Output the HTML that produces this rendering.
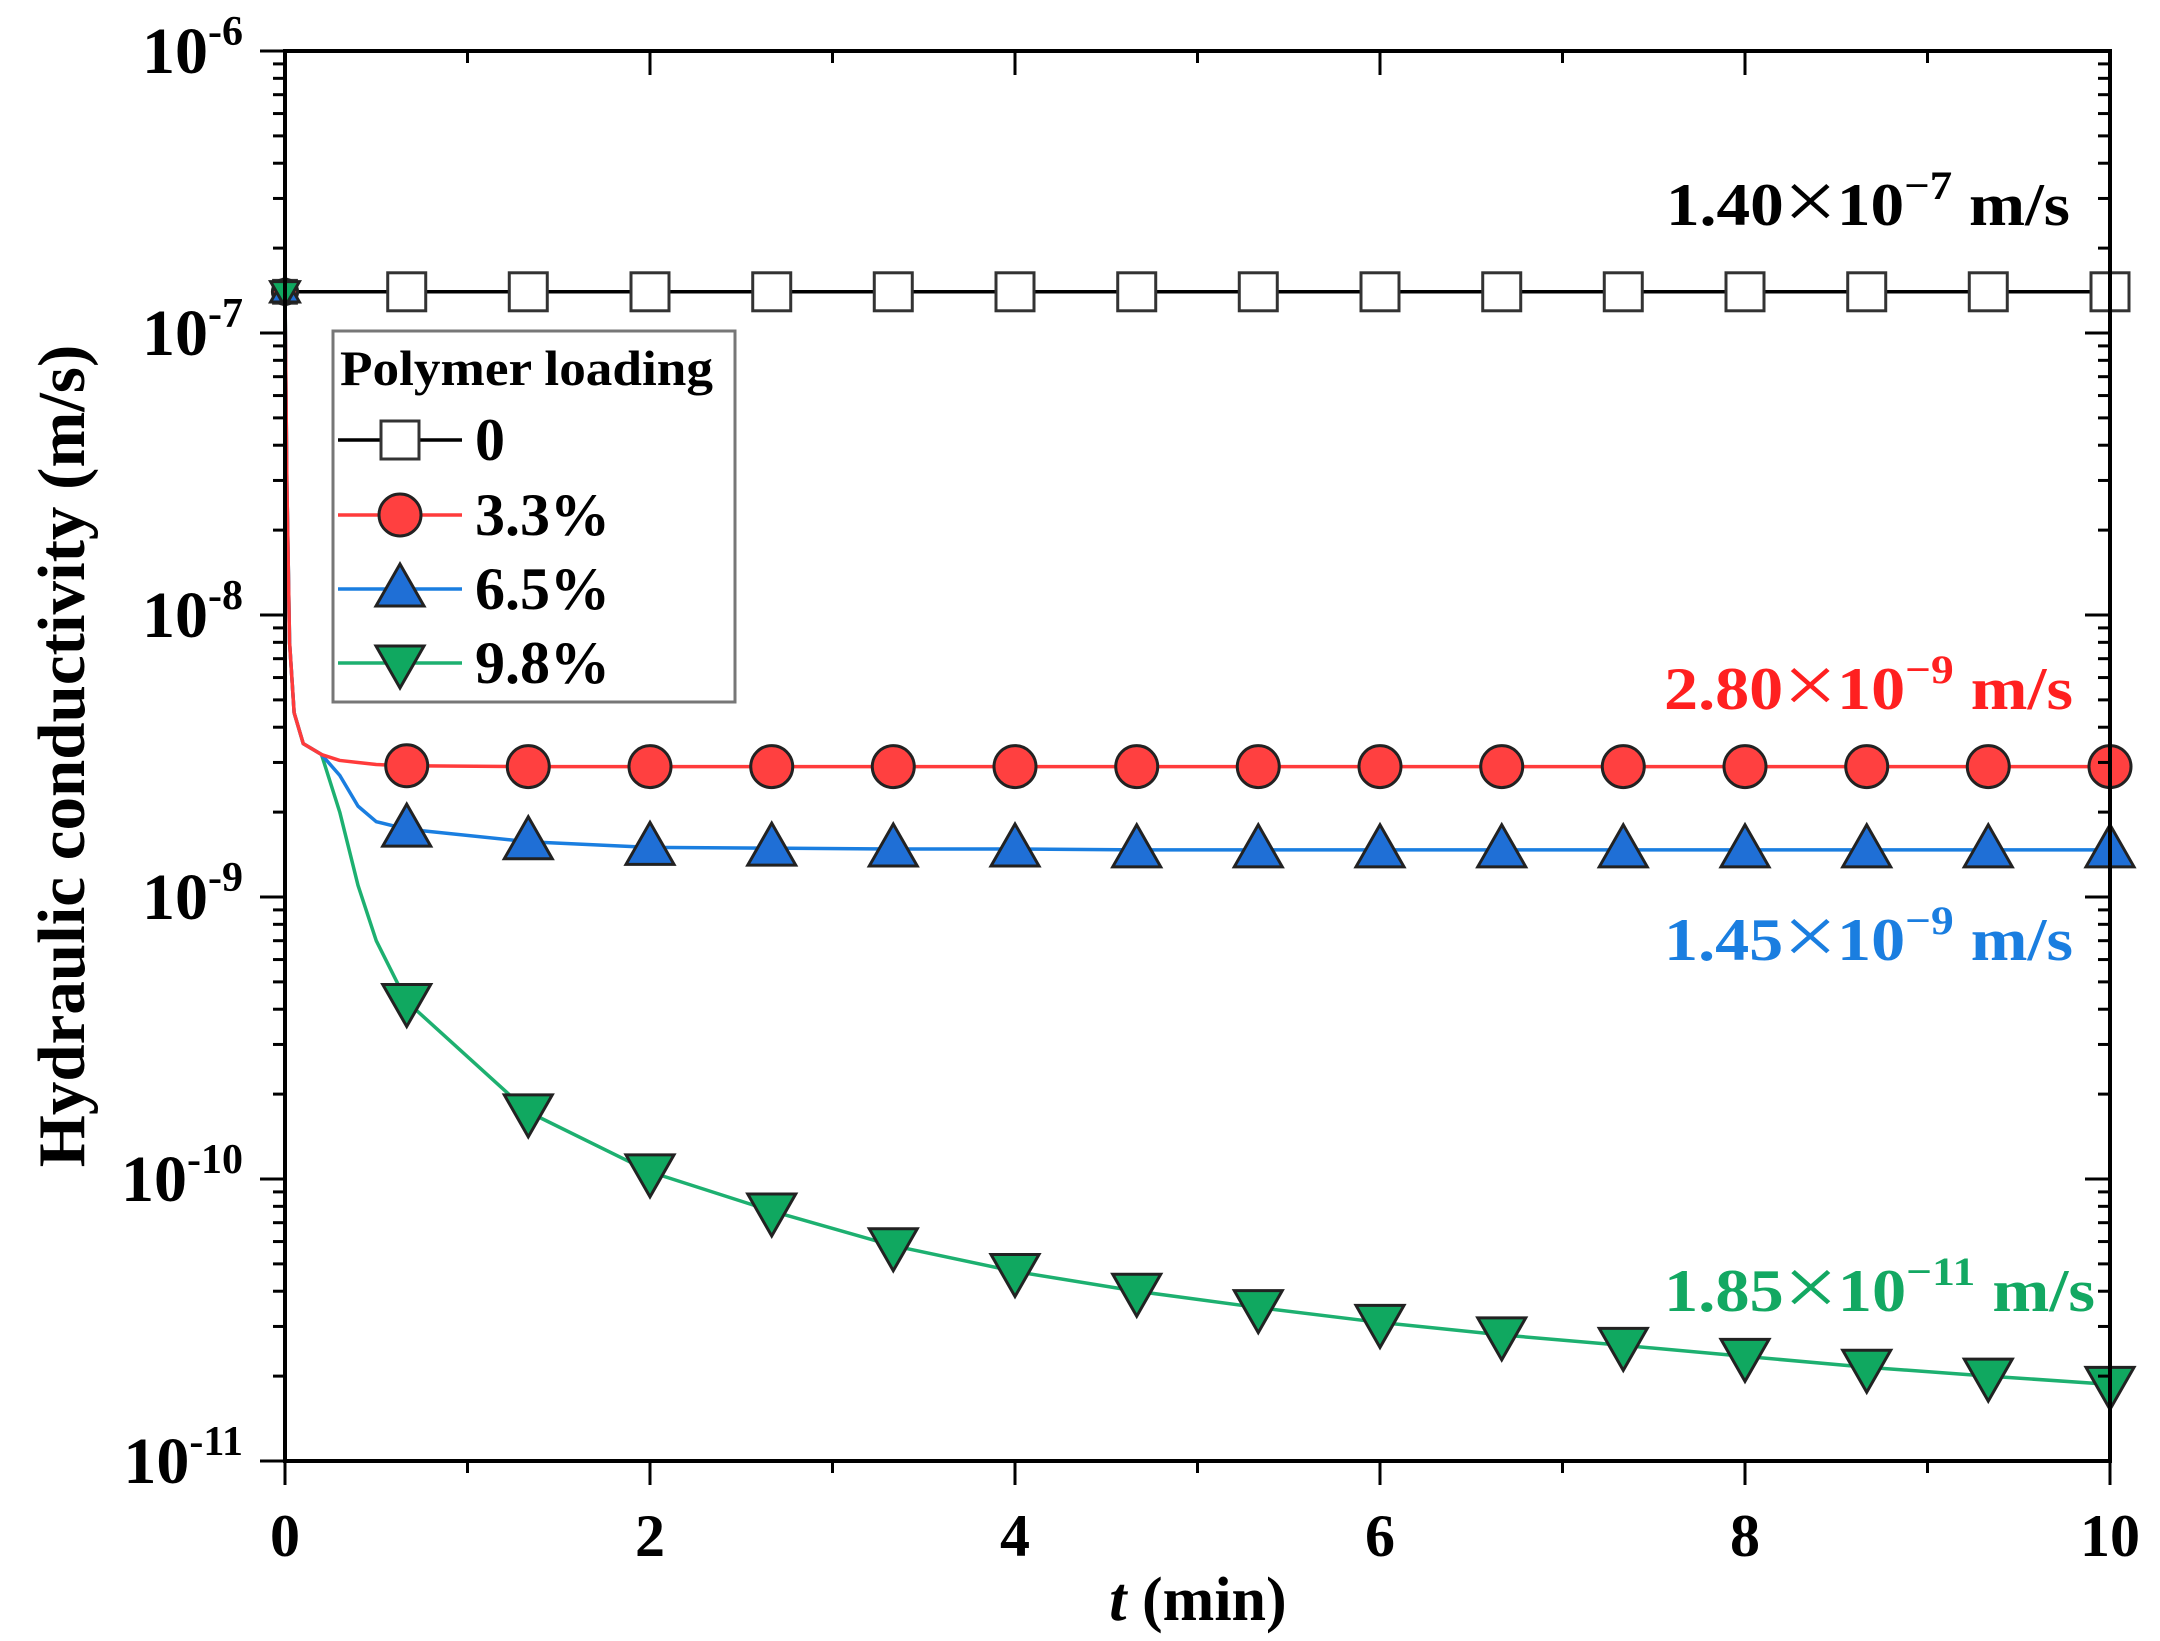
<!DOCTYPE html>
<html><head><meta charset="utf-8"><style>
html,body{margin:0;padding:0;background:#fff;}
svg{display:block;font-family:"Liberation Serif",serif;font-weight:bold;}
</style></head><body>
<svg id="chart" width="2160" height="1641" viewBox="0 0 2160 1641" xmlns="http://www.w3.org/2000/svg">
<g id="grid"></g>
<g id="lines"></g>
<g id="marks"></g>
<g id="axes"></g>
<g id="legend"></g>
<g id="annot"></g>
</svg>
<script>
// ---- data ----
const markerT = [0,0.667,1.333,2,2.667,3.333,4,4.667,5.333,6,6.667,7.333,8,8.667,9.333,10];
const k0 = [1.4e-7,1.4e-7,1.4e-7,1.4e-7,1.4e-7,1.4e-7,1.4e-7,1.4e-7,1.4e-7,1.4e-7,1.4e-7,1.4e-7,1.4e-7,1.4e-7,1.4e-7,1.4e-7];
const k33 = [1.4e-7,2.92e-9,2.9e-9,2.9e-9,2.9e-9,2.9e-9,2.9e-9,2.9e-9,2.9e-9,2.9e-9,2.9e-9,2.9e-9,2.9e-9,2.9e-9,2.9e-9,2.9e-9];
const k65 = [1.4e-7,1.74e-9,1.57e-9,1.5e-9,1.49e-9,1.48e-9,1.48e-9,1.47e-9,1.47e-9,1.47e-9,1.47e-9,1.47e-9,1.47e-9,1.47e-9,1.47e-9,1.47e-9];
const k98 = [1.4e-7,4.26e-10,1.73e-10,1.06e-10,7.7e-11,5.8e-11,4.7e-11,4.0e-11,3.5e-11,3.1e-11,2.8e-11,2.57e-11,2.35e-11,2.15e-11,2.0e-11,1.87e-11];
// early transient (line only)
const earlyT = [0,0.01,0.025,0.05,0.1,0.2,0.3,0.4,0.5];
const early33 = [1.4e-7,3e-8,8e-9,4.5e-9,3.5e-9,3.2e-9,3.05e-9,3.0e-9,2.95e-9];
const early65 = [1.4e-7,3e-8,8e-9,4.5e-9,3.5e-9,3.2e-9,2.7e-9,2.1e-9,1.85e-9];
const early98 = [1.4e-7,3e-8,8e-9,4.5e-9,3.5e-9,3.2e-9,2.0e-9,1.1e-9,7e-10];
const xTicks = [0,2,4,6,8,10];
const yExps = [-6,-7,-8,-9,-10,-11];

// ---- axes ----
const X0=285,X1=2110,Y0=51,Y1=1461;
const xs=t=>X0+(t/10)*(X1-X0);
const ys=v=>Y0+(-6-Math.log10(v))*(Y1-Y0)/5;
const NS="http://www.w3.org/2000/svg";
function mk(tag,attrs,parent){const e=document.createElementNS(NS,tag);for(const k in attrs)e.setAttribute(k,attrs[k]);parent.appendChild(e);return e;}
const axes=document.getElementById('axes');
const frame=mk('rect',{x:X0,y:Y0,width:X1-X0,height:Y1-Y0,fill:'none',stroke:'#000','stroke-width':4},axes);


for(let t=0;t<=10;t++){
  const maj=t%2===0, L=maj?24:12;
  const b=mk('line',{x1:xs(t),x2:xs(t),y1:Y1,y2:Y1+L,stroke:'#000','stroke-width':3},axes);
  
  
  const tp=mk('line',{x1:xs(t),x2:xs(t),y1:Y0,y2:Y0+L,stroke:'#000','stroke-width':3},axes);
  
  
}
xTicks.forEach(t=>{
  const tx=mk('text',{x:xs(t),y:1556,'font-size':60,'text-anchor':'middle'},axes);
  tx.textContent=t;
  
  
});
for(let e=-6;e>-11;e--){
  for(let m=1;m<10;m++){
    const y=ys(m*Math.pow(10,e-1));
    const L=m===1?25:12;
    const l=mk('line',{x1:X0-L,x2:X0,y1:y,y2:y,stroke:'#000','stroke-width':3},axes);
    
    
    const r=mk('line',{x1:X1-L,x2:X1,y1:y,y2:y,stroke:'#000','stroke-width':3},axes);
    
    
  }
}
mk('line',{x1:X0-25,x2:X0,y1:ys(1e-6),y2:ys(1e-6),stroke:'#000','stroke-width':3},axes);
yExps.forEach(e=>{
  const y=ys(Math.pow(10,e));
  const tx=mk('text',{x:243,y:y+22,'font-size':66,'text-anchor':'end'},axes);
  tx.innerHTML='10<tspan dy="-28" font-size="42">-'+(-e)+'</tspan>';
  
  
});
const xt=mk('text',{x:1198,y:1620,'font-size':62,'text-anchor':'middle'},axes);
xt.innerHTML='<tspan font-style="italic">t</tspan> (min)';


const yt=mk('text',{x:0,y:0,'font-size':67,'text-anchor':'middle',transform:'translate(84,756) rotate(-90)'},axes);
yt.textContent='Hydraulic conductivity (m/s)';



// ---- series ----
const series=[
 {name:'0',color:'#000',fill:'#fff',m:'sq',mv:k0,lt:[0,10],lv:[1.4e-7,1.4e-7]},
 {name:'3.3%',color:'#ff3b3b',fill:'#ff4040',m:'ci',mv:k33,lt:earlyT.concat(markerT.slice(1)),lv:early33.concat(k33.slice(1))},
 {name:'6.5%',color:'#1a7ee0',fill:'#1f6fd6',m:'up',mv:k65,lt:earlyT.concat(markerT.slice(1)),lv:early65.concat(k65.slice(1))},
 {name:'9.8%',color:'#1db070',fill:'#10a860',m:'dn',mv:k98,lt:earlyT.concat(markerT.slice(1)),lv:early98.concat(k98.slice(1))}
];
function marker(type,x,y,fill,parent,s){
  s=s||1;
  if(type==='sq') return mk('rect',{x:x-19*s,y:y-19*s,width:38*s,height:38*s,fill:fill,stroke:'#333','stroke-width':3},parent);
  if(type==='ci') return mk('circle',{cx:x,cy:y,r:21*s,fill:fill,stroke:'#222','stroke-width':3},parent);
  if(type==='up') return mk('polygon',{points:`${x-24*s},${y+17*s} ${x+24*s},${y+17*s} ${x},${y-25*s}`,fill:fill,stroke:'#222','stroke-width':3},parent);
  return mk('polygon',{points:`${x-24*s},${y-17*s} ${x+24*s},${y-17*s} ${x},${y+25*s}`,fill:fill,stroke:'#222','stroke-width':3},parent);
}
const linesG=document.getElementById('lines'), marksG=document.getElementById('marks');
series.slice().reverse().forEach(s=>{
  const pts=s.lt.map((t,i)=>[xs(t),ys(s.lv[i])]);
  let d='M'+pts[0].join(',');
  for(let i=1;i<pts.length;i++) d+=' L'+pts[i].join(',');
  const p=mk('path',{d:d,fill:'none',stroke:s.color,'stroke-width':3.5,'stroke-linejoin':'round'},linesG);
  
  
});
series.forEach(s=>{
  markerT.forEach((t,i)=>{
    const e=marker(s.m,xs(t),ys(s.mv[i]),s.fill,marksG,i===0?0.6:1);
    
    
  });
});

// ---- legend ----
const lg=document.getElementById('legend');


mk('rect',{x:333,y:331,width:402,height:371,fill:'#fff',stroke:'#777','stroke-width':3},lg);
const lt=mk('text',{x:340,y:385,'font-size':50,textLength:373,lengthAdjust:'spacingAndGlyphs'},lg);
lt.textContent='Polymer loading';


const ly=[440,515,589,663];
series.forEach((s,i)=>{
  const g=mk('g',{},lg);
  
  
  mk('line',{x1:338,x2:462,y1:ly[i],y2:ly[i],stroke:s.color,'stroke-width':3.5},g);
  marker(s.m,400,ly[i],s.fill,g);
  const t=mk('text',{x:475,y:ly[i]+20,'font-size':60},g);
  t.textContent=s.name;
});

// ---- annotations ----
const an=document.getElementById('annot');
const ann=[
 {y:225,c:'#000',m:'1.40',e:'7',x1:1666,x2:2070},
 {y:709,c:'#ff2020',m:'2.80',e:'9',x1:1664,x2:2073},
 {y:960,c:'#1a7ee0',m:'1.45',e:'9',x1:1664,x2:2073},
 {y:1311,c:'#13a862',m:'1.85',e:'11',x1:1664,x2:2095}
];
ann.forEach(a=>{
  const t=mk('text',{x:a.x1,y:a.y,'font-size':60,fill:a.c,textLength:a.x2-a.x1,lengthAdjust:'spacingAndGlyphs'},an);
  t.innerHTML=a.m+'<tspan font-weight="normal" font-size="84" dy="4">×</tspan><tspan dy="-4">10</tspan><tspan dy="-26" font-size="40">−'+a.e+'</tspan><tspan dy="26"> m/s</tspan>';
  
  
});
</script>
</body></html>
